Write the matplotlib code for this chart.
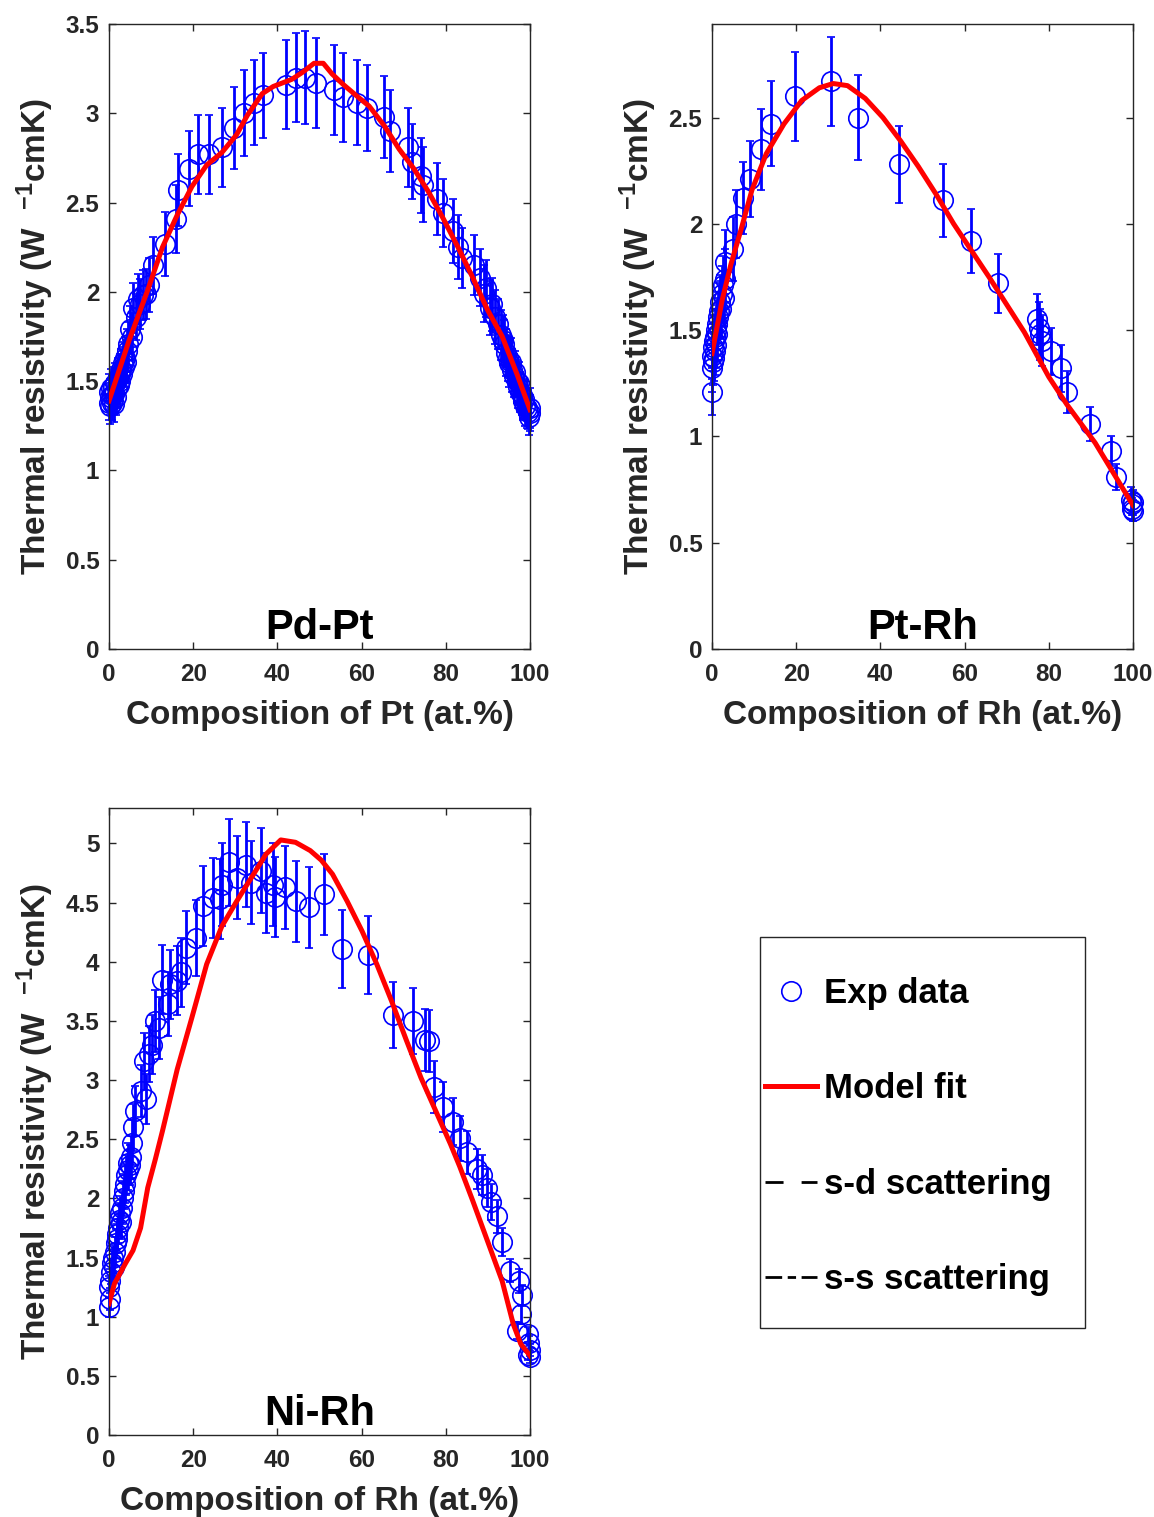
import matplotlib
matplotlib.use("Agg")
import matplotlib.pyplot as plt
from matplotlib.lines import Line2D
from matplotlib.patches import Rectangle
from matplotlib.ticker import FormatStrFormatter

plt.rcParams['font.family'] = ['Liberation Sans', 'DejaVu Sans']
plt.rcParams['font.weight'] = 'bold'
plt.rcParams['axes.labelweight'] = 'bold'
plt.rcParams['mathtext.fontset'] = 'custom'
plt.rcParams['mathtext.rm'] = 'Liberation Sans:bold'
plt.rcParams['mathtext.bf'] = 'Liberation Sans:bold'
plt.rcParams['mathtext.default'] = 'bf'

# ---- Pd-Pt ----
pdpt_x = [0.0, 0.0, 0.2, 0.3, 0.5, 0.6, 0.8, 1.0, 1.1, 1.3, 1.5, 1.7, 1.9, 2.1, 2.3, 2.5,
          2.7, 2.9, 3.1, 3.3, 3.6, 3.8, 4.1, 4.3, 4.6, 5.0, 5.4, 5.7, 6.3, 6.8, 7.4, 8.0,
          8.8, 9.6, 10.5, 13.2, 16.0, 16.5, 19.0, 21.2, 23.7, 26.8, 29.6, 32.0, 34.5, 36.6,
          42.1, 44.3, 46.5, 49.1, 53.5, 55.7, 58.8, 61.4, 65.4, 66.7, 71.0, 71.9, 74.1, 74.6,
          78.0, 79.4, 81.6, 82.9, 83.8, 86.8, 88.2, 89.0, 89.6, 90.4, 91.0, 91.7, 92.3, 93.0,
          93.5, 93.9, 94.3, 94.7, 95.1, 95.5, 95.8, 96.2, 96.5, 96.8, 97.1, 97.4, 97.7, 98.0,
          98.3, 98.6, 98.9, 99.2, 99.5, 99.8, 100.0, 100.0]
pdpt_y = [1.38, 1.44, 1.36, 1.41, 1.46, 1.38, 1.42, 1.47, 1.37, 1.43, 1.49, 1.41, 1.46, 1.52, 1.48, 1.54,
          1.50, 1.57, 1.54, 1.60, 1.58, 1.63, 1.61, 1.67, 1.71, 1.79, 1.75, 1.91, 1.86, 1.96, 1.93, 1.98,
          1.99, 2.04, 2.15, 2.27, 2.41, 2.57, 2.69, 2.77, 2.77, 2.81, 2.92, 3.00, 3.06, 3.10,
          3.16, 3.20, 3.20, 3.17, 3.13, 3.09, 3.06, 3.03, 2.98, 2.90, 2.81, 2.73, 2.65, 2.60,
          2.52, 2.44, 2.34, 2.25, 2.19, 2.15, 2.08, 1.99, 2.02, 1.91, 1.93, 1.86, 1.82, 1.76,
          1.73, 1.71, 1.66, 1.63, 1.60, 1.61, 1.56, 1.53, 1.55, 1.50, 1.47, 1.49, 1.44, 1.42,
          1.39, 1.40, 1.36, 1.35, 1.33, 1.30, 1.32, 1.35]
pdpt_err = [0.10, 0.10, 0.10, 0.10, 0.11, 0.10, 0.10, 0.11, 0.10, 0.10, 0.11, 0.10, 0.11, 0.11, 0.11, 0.11,
            0.11, 0.11, 0.11, 0.12, 0.11, 0.12, 0.12, 0.12, 0.12, 0.13, 0.13, 0.14, 0.13, 0.14, 0.14, 0.14,
            0.14, 0.15, 0.16, 0.18, 0.19, 0.20, 0.21, 0.22, 0.22, 0.22, 0.23, 0.24, 0.24, 0.24,
            0.25, 0.25, 0.26, 0.25, 0.25, 0.25, 0.24, 0.24, 0.23, 0.23, 0.22, 0.21, 0.21, 0.21,
            0.20, 0.19, 0.18, 0.18, 0.17, 0.17, 0.16, 0.16, 0.16, 0.15, 0.15, 0.15, 0.14, 0.14,
            0.14, 0.13, 0.13, 0.13, 0.13, 0.13, 0.12, 0.12, 0.12, 0.12, 0.12, 0.12, 0.11, 0.11,
            0.11, 0.11, 0.11, 0.11, 0.10, 0.10, 0.10, 0.11]
pdpt_fit_x = [0, 4.8, 9.2, 12.7, 16.2, 19.7, 23.2, 26.8, 30.3, 32.9, 36.4, 39.0, 43.4, 46.0, 48.7,
              50.9, 53.0, 55.7, 59.2, 61.8, 65.4, 68.9, 72.4, 75.9, 79.4, 82.9, 86.4, 89.9, 93.4, 96.9, 100]
pdpt_fit_y = [1.39, 1.73, 2.01, 2.25, 2.43, 2.59, 2.71, 2.78, 2.88, 2.99, 3.11, 3.15, 3.19, 3.23, 3.28,
              3.28, 3.22, 3.16, 3.09, 3.04, 2.93, 2.80, 2.69, 2.56, 2.41, 2.25, 2.08, 1.90, 1.75, 1.54, 1.34]

# ---- Pt-Rh ----
ptrh_x = [0.0, 0.0, 0.1, 0.2, 0.3, 0.4, 0.5, 0.6, 0.8, 0.9, 1.0, 1.2, 1.3, 1.5, 1.7, 1.9, 2.1,
          2.3, 2.5, 2.8, 3.0, 3.2, 4.9, 5.7, 7.4, 9.1, 11.6, 14.1, 19.6, 28.2, 34.7, 44.4, 54.9,
          61.6, 67.9, 77.1, 77.6, 78.0, 78.4, 80.5, 83.0, 84.3, 89.7, 94.8, 96.0, 99.5, 99.7,
          99.8, 100.0, 100.0]
ptrh_y = [1.21, 1.32, 1.38, 1.35, 1.42, 1.37, 1.45, 1.40, 1.47, 1.43, 1.50, 1.53, 1.48, 1.56, 1.59, 1.63, 1.60,
          1.67, 1.71, 1.65, 1.74, 1.82, 1.88, 2.00, 2.12, 2.21, 2.35, 2.47, 2.60, 2.67, 2.50, 2.28, 2.11,
          1.92, 1.72, 1.55, 1.51, 1.48, 1.45, 1.40, 1.32, 1.21, 1.06, 0.93, 0.81, 0.70, 0.66,
          0.68, 0.65, 0.69]
ptrh_err = [0.11, 0.11, 0.11, 0.11, 0.11, 0.11, 0.12, 0.11, 0.12, 0.11, 0.12, 0.12, 0.12, 0.12, 0.13, 0.13, 0.13,
            0.13, 0.14, 0.13, 0.14, 0.15, 0.15, 0.16, 0.17, 0.18, 0.19, 0.20, 0.21, 0.21, 0.20, 0.18, 0.17,
            0.15, 0.14, 0.12, 0.12, 0.12, 0.12, 0.11, 0.11, 0.10, 0.08, 0.07, 0.06, 0.06, 0.05,
            0.05, 0.05, 0.06]
ptrh_fit_x = [0, 2.4, 4.5, 7.0, 9.5, 12.9, 17.1, 21.3, 25.5, 28.8, 32.2, 36.4, 40.6, 44.8, 49.0,
              53.2, 57.4, 61.6, 65.8, 70.0, 74.2, 80.0, 84.3, 91.0, 100]
ptrh_fit_y = [1.39, 1.64, 1.81, 1.98, 2.16, 2.33, 2.47, 2.58, 2.64, 2.66, 2.65, 2.59, 2.50, 2.39, 2.27,
              2.14, 2.00, 1.875, 1.75, 1.62, 1.49, 1.28, 1.15, 0.97, 0.676]

# ---- Ni-Rh ----
nirh_x = [0.0, 0.3, 0.0, 0.2, 0.5, 0.8, 1.0, 1.2, 1.4, 1.6, 1.8, 2.0, 2.2, 2.4, 2.7, 2.9, 3.1,
          3.3, 3.6, 3.8, 4.1, 4.4, 4.6, 4.9, 5.2, 5.5, 5.8, 6.1, 7.5, 8.8, 8.3, 9.6, 10.1, 11.0,
          11.8, 12.7, 14.0, 14.5, 16.2, 17.1, 18.4, 20.6, 22.4, 24.6, 26.3, 26.8, 28.5, 30.3,
          32.5, 33.8, 36.0, 37.3, 39.0, 39.5, 41.7, 44.3, 47.4, 51.1, 55.3, 61.6, 67.5, 72.2,
          75.0, 75.9, 77.2, 79.4, 81.6, 83.3, 85.1, 87.3, 88.5, 89.9, 90.8, 92.1, 93.4, 95.2,
          97.4, 98.2, 97.8, 96.9, 99.5, 99.8, 100.0, 99.6, 100.0]
nirh_y = [1.08, 1.15, 1.25, 1.30, 1.38, 1.45, 1.50, 1.42, 1.55, 1.62, 1.70, 1.66, 1.75, 1.82, 1.88, 1.80, 1.92,
          2.00, 2.06, 2.12, 2.20, 2.24, 2.30, 2.28, 2.35, 2.47, 2.60, 2.74, 2.91, 2.84, 3.16, 3.22, 3.30, 3.50,
          3.44, 3.85, 3.64, 3.81, 3.84, 3.91, 4.12, 4.20, 4.47, 4.54, 4.53, 4.65, 4.84, 4.71,
          4.82, 4.67, 4.77, 4.58, 4.65, 4.55, 4.63, 4.51, 4.46, 4.57, 4.11, 4.06, 3.55, 3.50,
          3.34, 3.33, 2.94, 2.77, 2.65, 2.51, 2.39, 2.25, 2.20, 2.09, 1.97, 1.85, 1.63, 1.39,
          1.30, 1.18, 1.02, 0.88, 0.85, 0.78, 0.72, 0.68, 0.66]
nirh_err = [0.08, 0.09, 0.09, 0.10, 0.10, 0.11, 0.11, 0.11, 0.12, 0.12, 0.13, 0.12, 0.13, 0.14, 0.14, 0.14, 0.14,
            0.15, 0.15, 0.16, 0.17, 0.17, 0.17, 0.17, 0.18, 0.19, 0.20, 0.21, 0.22, 0.21, 0.24, 0.24, 0.25, 0.26,
            0.26, 0.29, 0.27, 0.29, 0.29, 0.29, 0.31, 0.32, 0.34, 0.34, 0.34, 0.35, 0.37, 0.35,
            0.36, 0.35, 0.36, 0.34, 0.35, 0.34, 0.35, 0.34, 0.34, 0.34, 0.33, 0.33, 0.28, 0.28,
            0.26, 0.26, 0.22, 0.21, 0.20, 0.19, 0.18, 0.17, 0.17, 0.16, 0.15, 0.14, 0.12, 0.10,
            0.10, 0.09, 0.08, 0.07, 0.06, 0.06, 0.05, 0.05, 0.05]
nirh_fit_x = [0, 1.3, 3.9, 5.7, 7.5, 9.2, 11.0, 12.7, 16.2, 19.7, 23.2, 26.8, 30.3, 33.8, 37.3, 40.8,
              44.3, 47.8, 50.4, 53.1, 56.6, 60.1, 63.6, 67.1, 70.6, 74.1, 77.6, 81.1, 83.3, 86.4, 89.9,
              93.4, 96.0, 97.8, 100]
nirh_fit_y = [1.11, 1.28, 1.45, 1.56, 1.75, 2.09, 2.33, 2.57, 3.09, 3.53, 3.98, 4.30, 4.51, 4.71, 4.91, 5.03,
              5.01, 4.94, 4.86, 4.74, 4.51, 4.26, 3.98, 3.67, 3.34, 3.02, 2.74, 2.46, 2.27, 1.98, 1.64,
              1.30, 0.94, 0.77, 0.67]

legend_labels = ["Exp data", "Model fit", "s-d scattering", "s-s scattering"]

W, H = 1154, 1517
fig = plt.figure(figsize=(W / 100, H / 100), dpi=100)
gray = '#262626'


def panel(rect, x, y, err, fx, fy, ymax, yticks, xlabel, name):
    ax = fig.add_axes(rect)
    eb = ax.errorbar(x, y, yerr=err, fmt='o', mfc='none', mec='blue', ecolor='blue',
                     ms=14, mew=1.2, elinewidth=2, capsize=3, capthick=2, zorder=2)
    for a in [eb[0]] + list(eb[1]) + list(eb[2]):
        a.set_clip_on(False)
    ax.plot(fx, fy, color='red', lw=3.6, zorder=3)
    ax.set_xlim(0, 100)
    ax.set_ylim(0, ymax)
    ax.set_xticks([0, 20, 40, 60, 80, 100])
    ax.set_yticks(yticks)
    ax.yaxis.set_major_formatter(FormatStrFormatter('%g'))
    ax.tick_params(direction='in', top=True, right=True, length=5, width=1,
                   color=gray, labelcolor=gray, labelsize=17.5)
    ax.tick_params(axis='x', pad=10)
    ax.tick_params(axis='y', pad=7)
    for s in ax.spines.values():
        s.set_color(gray)
        s.set_linewidth(1)
    ax.set_xlabel(xlabel, fontsize=24, color=gray, fontweight='bold', labelpad=10)
    ax.set_ylabel("Thermal resistivity (W  $^{-1}$cmK)", fontsize=24, color=gray,
                  fontweight='bold', labelpad=7)
    ax.text(0.5, 0.016, name, transform=ax.transAxes, ha='center', va='baseline',
            fontsize=30, fontweight='bold', color='black')
    return ax


def frect(x0, y0, x1, y1):
    return [x0 / W, 1 - y1 / H, (x1 - x0) / W, (y1 - y0) / H]


panel(frect(109, 24, 530, 649), pdpt_x, pdpt_y, pdpt_err, pdpt_fit_x, pdpt_fit_y,
      3.5, [0, 0.5, 1, 1.5, 2, 2.5, 3, 3.5], "Composition of Pt (at.%)", "Pd-Pt")
panel(frect(712, 24, 1133, 649), ptrh_x, ptrh_y, ptrh_err, ptrh_fit_x, ptrh_fit_y,
      2.94, [0, 0.5, 1, 1.5, 2, 2.5], "Composition of Rh (at.%)", "Pt-Rh")
panel(frect(109, 808, 530, 1435), nirh_x, nirh_y, nirh_err, nirh_fit_x, nirh_fit_y,
      5.3, [0, 0.5, 1, 1.5, 2, 2.5, 3, 3.5, 4, 4.5, 5], "Composition of Rh (at.%)", "Ni-Rh")

handles = [
    Line2D([], [], ls='none', marker='o', mfc='none', mec='blue', ms=14, mew=1.2),
    Line2D([], [], color='red', lw=3.6),
    Line2D([], [], color='black', lw=2, dashes=(6.5, 6.5)),
    Line2D([], [], color='black', lw=2, dashes=(6, 2, 3, 2)),
]
fig.legend(handles, legend_labels, loc='upper left',
           bbox_to_anchor=(765 / W, 1 - 977 / H), frameon=False, fontsize=25,
           borderpad=0, borderaxespad=0, handlelength=1.5, handletextpad=0.2,
           labelspacing=1.8)
fig.add_artist(Rectangle((760 / W, 1 - 1328 / H), 325 / W, 391 / H, transform=fig.transFigure,
                         fill=False, ec=gray, lw=1))

fig.savefig("out.png", dpi=100)
